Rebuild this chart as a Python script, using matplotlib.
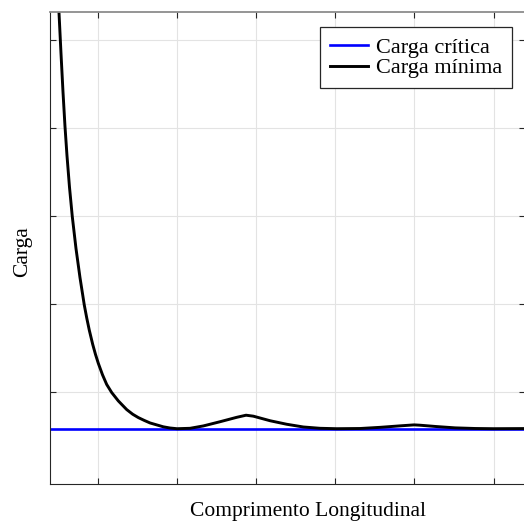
import numpy as np
import matplotlib
matplotlib.use("Agg")
import matplotlib.pyplot as plt

plt.rcParams['font.family'] = ['Liberation Serif', 'DejaVu Serif']

# Comprimento (x) e carga mínima (y)
comprimento = [0.2446, 0.2541, 0.2668, 0.2794, 0.2920, 0.3047, 0.3205, 0.3382, 0.3616, 0.3868,
               0.4140, 0.4298, 0.4456, 0.4671, 0.4848, 0.5025, 0.5291, 0.5556, 0.5872, 0.6289,
               0.6820, 0.7200, 0.7554, 0.7914, 0.8293, 0.9134, 0.9558, 1.0,
               1.082, 1.166, 1.272, 1.377, 1.436, 1.482, 1.588, 1.693,
               1.798, 1.904, 2.009, 2.157, 2.283, 2.410, 2.498, 2.536, 2.631, 2.757,
               2.884, 3.0, 3.2]
carga_minima = [5.687, 5.323, 4.857, 4.419, 4.026, 3.691, 3.332, 2.997, 2.633, 2.303,
                1.990, 1.840, 1.704, 1.543, 1.428, 1.327, 1.196, 1.086, 0.994, 0.899,
                0.800, 0.747, 0.709, 0.678, 0.648, 0.604, 0.5904, 0.5825,
                0.587, 0.614, 0.662, 0.712, 0.736, 0.725, 0.673, 0.633,
                0.602, 0.587, 0.5825, 0.5848, 0.598, 0.615, 0.626, 0.622, 0.608, 0.592,
                0.5848, 0.5825, 0.584]
comprimento_critico = [0.2, 3.2]
carga_critica = [0.5825, 0.5825]

xticks = [0.5, 1.0, 1.5, 2.0, 2.5, 3.0]
yticks = [1, 2, 3, 4, 5]

fig = plt.figure(figsize=(5.24, 5.23), dpi=100)
ax = fig.add_axes([50.4/524, 38.7/523, 474.9/524, 472.3/523])

ax.plot(comprimento_critico, carga_critica, color='#0000ff', lw=1.9, label='Carga crítica')
ax.plot(comprimento, carga_minima, color='black', lw=2.1, label='Carga mínima',
        solid_joinstyle='round')

ax.set_xlim(0.2, 3.2)
ax.set_ylim(-0.05, 5.323)
ax.set_xticks(xticks)
ax.set_yticks(yticks)
ax.set_xticklabels([])
ax.set_yticklabels([])
ax.tick_params(direction='in', length=4, width=0.8, color='#262626',
               top=True, right=True)
ax.grid(True, color='#e3e3e3', lw=0.8)
ax.set_axisbelow(True)

for s in ['left', 'bottom', 'right']:
    ax.spines[s].set_color('#262626')
    ax.spines[s].set_linewidth(0.8)
ax.spines['top'].set_color('#8c8c8c')
ax.spines['top'].set_linewidth(1.3)

ax.set_xlabel('Comprimento Longitudinal', fontsize=15.5)
ax.xaxis.set_label_coords(0.5424, -0.0585)
ax.xaxis.label.set_va('center')
ax.set_ylabel('Carga', fontsize=15.5)
ax.yaxis.set_label_coords(-0.0575, 0.4925)
ax.yaxis.label.set_va('center')

leg = ax.legend(loc='upper right', bbox_to_anchor=(0.9726, 0.9676), borderaxespad=0,
                fontsize=16, fancybox=False, framealpha=1, edgecolor='#262626',
                handlelength=1.7, handletextpad=0.36, borderpad=0.45, labelspacing=0.0)
leg.get_frame().set_linewidth(0.9)

fig.savefig('out.png', dpi=100)
